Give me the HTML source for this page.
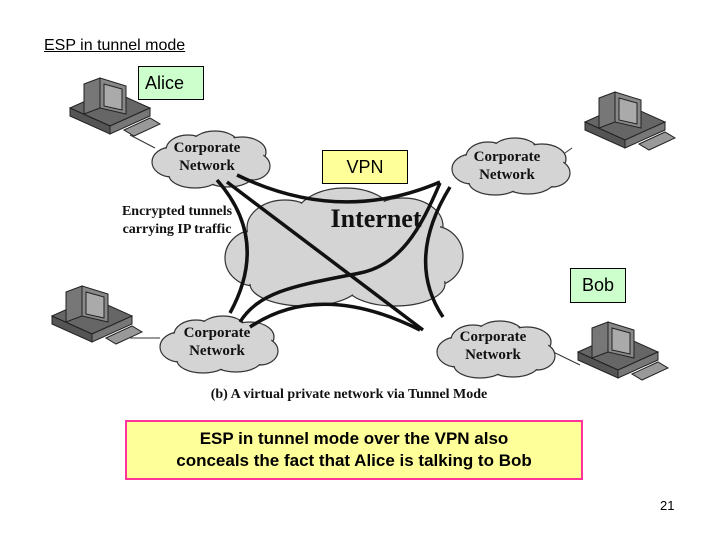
<!DOCTYPE html>
<html><head><meta charset="utf-8"><style>
body{margin:0;width:720px;height:540px;background:#fff;position:relative;overflow:hidden;font-family:"Liberation Sans",sans-serif}
.t{position:absolute}
</style></head><body>
<svg width="720" height="540" style="position:absolute;left:0;top:0">
<defs>
<g id="pc">
<polygon points="0,30 40,12 80,30 40,48" fill="#666" stroke="#222"/>
<polygon points="0,30 40,48 40,56 0,38" fill="#555" stroke="#222"/>
<polygon points="40,48 80,30 80,38 40,56" fill="#777" stroke="#222"/>
<polygon points="14,6 30,0 30,30 14,36" fill="#777" stroke="#222"/>
<polygon points="30,0 56,8 56,36 30,30" fill="#888" stroke="#222"/>
<polygon points="34,6 52,11 52,32 34,28" fill="#aaa" stroke="#222"/>
<polygon points="54,52 80,40 90,46 64,58" fill="#999" stroke="#222"/>
</g>
<g id="clb">
<ellipse cx="-38" cy="2" rx="20" ry="15"/>
<ellipse cx="-22" cy="-10" rx="22" ry="15"/>
<ellipse cx="5" cy="-15" rx="24" ry="14"/>
<ellipse cx="32" cy="-8" rx="24" ry="15"/>
<ellipse cx="42" cy="6" rx="18" ry="14"/>
<ellipse cx="18" cy="14" rx="26" ry="13"/>
<ellipse cx="-15" cy="15" rx="26" ry="13"/>
</g>
<g id="cl">
<use href="#clb" fill="#d4d4d4" stroke="#333" stroke-width="1.2"/>
<use href="#clb" fill="#d4d4d4" transform="scale(0.96)"/>
<ellipse cx="0" cy="0" rx="45" ry="16" fill="#d4d4d4"/>
</g>
<g id="inb">
<ellipse cx="-90" cy="8" rx="30" ry="28"/>
<ellipse cx="-60" cy="-22" rx="38" ry="28"/>
<ellipse cx="0" cy="-32" rx="50" ry="30"/>
<ellipse cx="58" cy="-24" rx="40" ry="28"/>
<ellipse cx="88" cy="6" rx="30" ry="30"/>
<ellipse cx="50" cy="34" rx="50" ry="22"/>
<ellipse cx="-40" cy="34" rx="55" ry="22"/>
</g>
</defs>
<use href="#pc" x="70" y="78"/>
<use href="#pc" x="585" y="92"/>
<use href="#pc" x="52" y="286"/>
<use href="#pc" x="578" y="322"/>
<g stroke="#333" stroke-width="1" fill="none">
<line x1="130" y1="135" x2="155" y2="148"/>
<line x1="572" y1="148" x2="562" y2="155"/>
<line x1="130" y1="338" x2="160" y2="338"/>
<line x1="545" y1="348" x2="580" y2="365"/>
</g>
<g transform="translate(345,250)">
<use href="#inb" fill="#d4d4d4" stroke="#333" stroke-width="1.2"/>
<use href="#inb" fill="#d4d4d4" transform="scale(0.97)"/>
<ellipse cx="0" cy="0" rx="95" ry="35" fill="#d4d4d4"/>
</g>
<use href="#cl" x="210" y="160"/>
<use href="#cl" x="510" y="167"/>
<use href="#cl" x="218" y="345"/>
<use href="#cl" x="495" y="350"/>
<g stroke="#111" stroke-width="3.5" fill="none">
<path d="M237 175 Q340 225 440 182"/>
<path d="M217 180 Q270 240 230 313"/>
<path d="M227 182 L423 330"/>
<path d="M440 183 C420 230 400 265 360 273 C300 285 260 290 240 322"/>
<path d="M450 187 Q405 260 443 317"/>
<path d="M250 327 Q320 280 420 330"/>
</g>
<g font-family="Liberation Serif,serif" font-weight="bold" fill="#111" text-anchor="middle">
<text x="207" y="152" font-size="15">Corporate</text><text x="207" y="170" font-size="15">Network</text>
<text x="507" y="161" font-size="15">Corporate</text><text x="507" y="179" font-size="15">Network</text>
<text x="217" y="337" font-size="15">Corporate</text><text x="217" y="355" font-size="15">Network</text>
<text x="493" y="341" font-size="15">Corporate</text><text x="493" y="359" font-size="15">Network</text>
<text x="376" y="227" font-size="26">Internet</text>
<text x="177" y="215" font-size="14">Encrypted tunnels</text>
<text x="177" y="233" font-size="14">carrying IP traffic</text>
<text x="349" y="398" font-size="14">(b) A virtual private network via Tunnel Mode</text>
</g>
</svg>
<div class="t" style="left:44px;top:37px;font-size:16px;text-decoration:underline">ESP in tunnel mode</div>
<div class="t" style="left:138px;top:66px;background:#ccffcc;border:1.5px solid #000;font-size:18px;line-height:32px;padding-left:6px;box-sizing:border-box;width:66px;height:34px">Alice</div>
<div class="t" style="left:322px;top:150px;width:86px;height:34px;background:#ffff99;border:1.5px solid #000;font-size:18px;line-height:32px;text-align:center;box-sizing:border-box">VPN</div>
<div class="t" style="left:570px;top:268px;width:56px;height:35px;background:#ccffcc;border:1.5px solid #000;font-size:18px;line-height:33px;text-align:center;box-sizing:border-box">Bob</div>
<div class="t" style="left:125px;top:420px;width:458px;height:60px;background:#ffff99;border:2px solid #ff3399;box-sizing:border-box;font-size:17px;font-weight:bold;text-align:center;line-height:22px;padding-top:6px">ESP in tunnel mode over the VPN also<br>conceals the fact that Alice is talking to Bob</div>
<div class="t" style="left:660px;top:498px;font-size:13px">21</div>
</body></html>
